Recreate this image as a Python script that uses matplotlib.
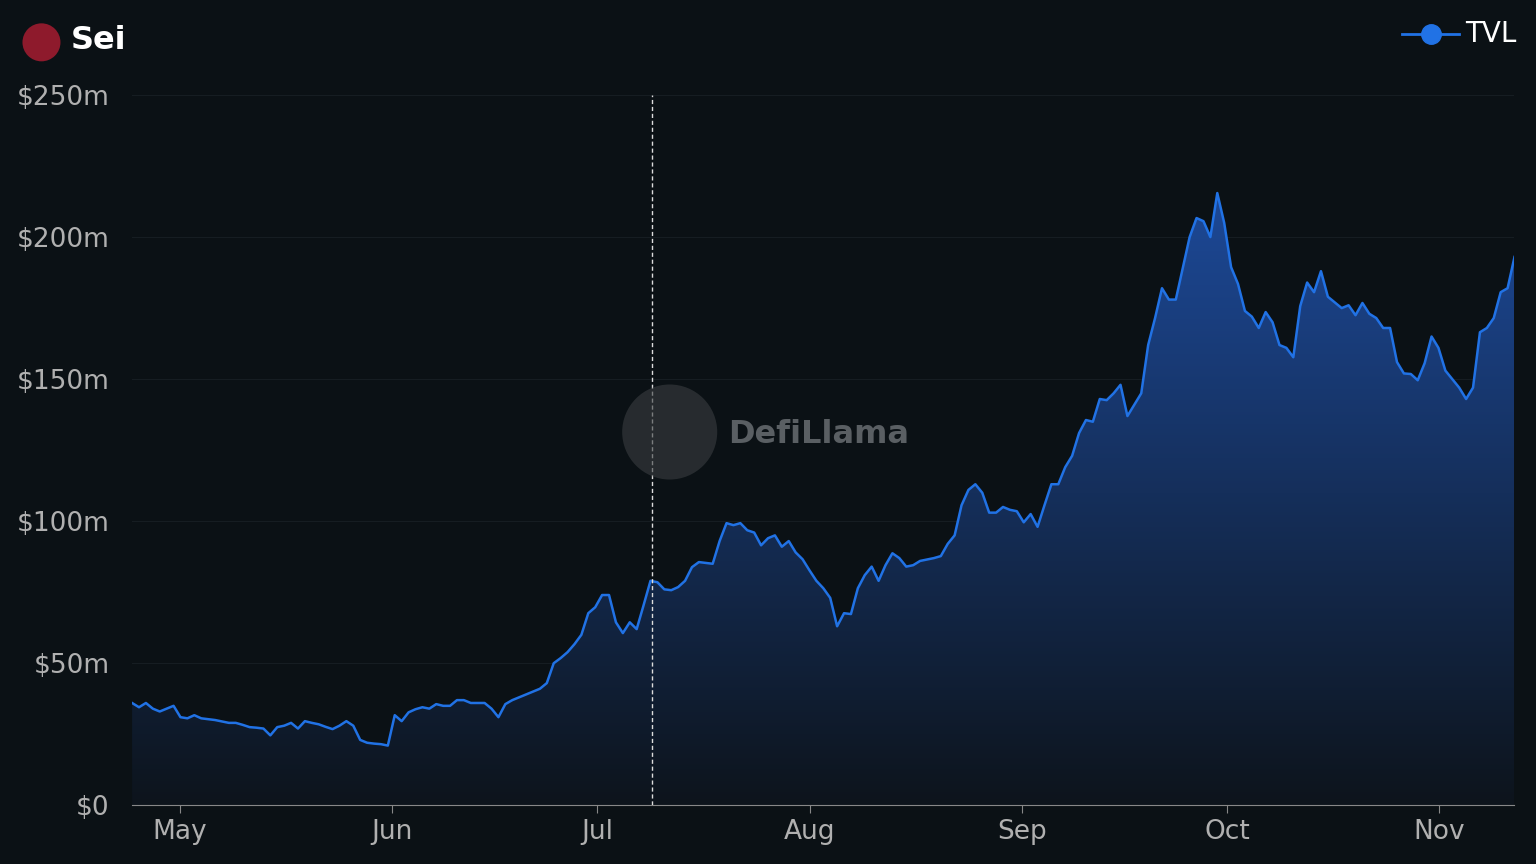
import numpy as np
import pandas as pd
import matplotlib
matplotlib.use("Agg")
import matplotlib.pyplot as plt
from matplotlib.patches import Polygon, Ellipse
import matplotlib.dates as mdates
from matplotlib.colors import LinearSegmentedColormap

tvl = [36,34.5,36,34,33,34,35,31,30.6,31.7,30.6,30.3,30,29.5,29,29,28.3,27.5,27.3,27,24.6,27.5,28,29,27,29.6,29,28.5,27.6,26.8,28,29.6,28,23,22,21.7,21.5,21,31.7,29.6,32.7,33.8,34.5,34,35.6,35,35,37,37,36,36,36,34,31,35.6,37,38,39,40,41,43,50,51.8,53.9,56.7,60,67.6,69.7,74,74,64.4,60.6,64.4,62,70.4,79,78.5,76,75.7,76.8,79,83.8,85.6,85.3,85,93,99.3,98.6,99.3,96.8,96,91.5,94,95,91,93,89,86.6,82.7,79,76.4,73,63,67.6,67.3,76.4,81,84,79,84.5,88.7,87,84,84.5,86,86.5,87,87.7,92,95,105.6,111,113,110,103,103,105,104,103.5,99.6,102.5,98,105.6,113,113,119,123,131,135.6,135,143,142.6,145,148,137,141,145,162,171.5,182,178,178,189,200,206.7,205.6,200,215.5,205,189.4,183.5,174,172,168,173.6,170,162,161,157.7,175.7,184,180.6,188,179,177,175,176,172.5,176.8,173,171.5,168,168,156,152,151.8,149.6,155.6,165,161,153,150,147,143,147,166.5,168,171.5,180.6,182,193]
start, end = pd.Timestamp("2024-04-24"), pd.Timestamp("2024-11-12")
dates = pd.to_datetime(np.linspace(start.value, end.value, len(tvl)))
marker_date = pd.Timestamp("2024-07-08 22:00")
yticks = [0, 50, 100, 150, 200, 250]
ylabels = ["$0", "$50m", "$100m", "$150m", "$200m", "$250m"]
months = ["2024-05-01","2024-06-01","2024-07-01","2024-08-01","2024-09-01","2024-10-01","2024-11-01"]
mlabels = ["May","Jun","Jul","Aug","Sep","Oct","Nov"]

bg = "#0b1115"
fig = plt.figure(figsize=(15.36, 8.64), dpi=100, facecolor=bg)
ax = fig.add_axes([0.086, 0.068, 0.9, 0.822], facecolor=bg)
x = mdates.date2num(dates)
ax.set_xlim(x[0], x[-1]); ax.set_ylim(0, 250)
grad = np.linspace(0, 1, 256).reshape(-1, 1)
cmap = LinearSegmentedColormap.from_list("g", [(0.0, "#0d141c"), (1.0, "#1d4a9a")])
im = ax.imshow(grad, extent=[x[0], x[-1], 0, 220], origin="lower", aspect="auto", cmap=cmap, zorder=1)
poly = Polygon(np.column_stack([np.r_[x[0], x, x[-1]], np.r_[0, tvl, 0]]), closed=True, transform=ax.transData, facecolor="none", edgecolor="none")
ax.add_patch(poly); im.set_clip_path(poly)
ax.plot(x, tvl, color="#2172e5", lw=1.8, zorder=3)
for t in yticks[1:]:
    ax.axhline(t, color="#161d22", lw=0.8, zorder=0)
ax.axvline(mdates.date2num(marker_date), color="#dddddd", lw=1, ls=(0, (3, 2)), zorder=4)
ax.set_yticks(yticks); ax.set_yticklabels(ylabels)
ax.set_xticks(mdates.date2num(pd.to_datetime(months))); ax.set_xticklabels(mlabels)
ax.tick_params(colors="#b0b0b0", labelsize=19, length=0)
ax.tick_params(axis="x", length=6, color="#888888", pad=4)
ax.yaxis.set_tick_params(pad=16)
for s in ["top", "right", "left"]:
    ax.spines[s].set_visible(False)
ax.spines["bottom"].set_color("#888888")

def circ(cx, cy, r, **kw):
    fig.patches.append(Ellipse((cx, cy), 2*r*864/1536, 2*r, transform=fig.transFigure, figure=fig, **kw))

circ(0.436, 0.5, 0.055, facecolor="#3a3e41", alpha=0.6)
fig.text(0.474, 0.497, "DefiLlama", color="#5a5f63", fontsize=23, fontweight="bold", va="center")
circ(0.027, 0.951, 0.022, facecolor="#8e1a2c")
fig.text(0.046, 0.953, "Sei", color="white", fontsize=23, fontweight="bold", va="center")
fig.lines.append(plt.Line2D([0.913, 0.95], [0.961, 0.961], color="#2172e5", lw=2, transform=fig.transFigure))
fig.lines.append(plt.Line2D([0.9315], [0.961], color="#2172e5", marker="o", ms=14, transform=fig.transFigure))
fig.text(0.954, 0.961, "TVL", color="white", fontsize=20, va="center")
fig.savefig("out.png", dpi=100, facecolor=bg)
